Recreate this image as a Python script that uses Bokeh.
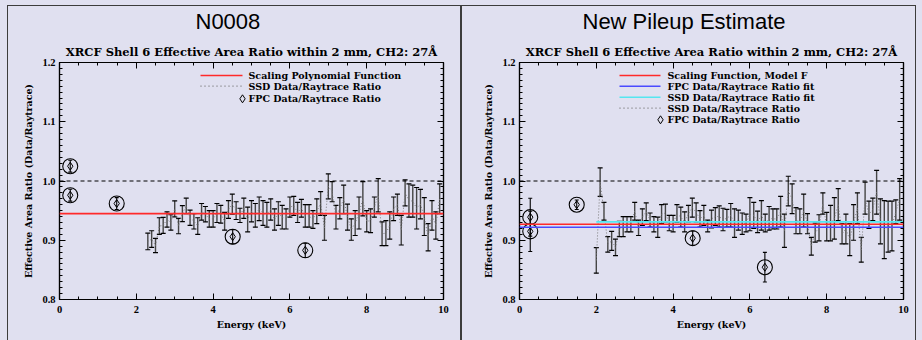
import numpy as np
from bokeh.plotting import figure
from bokeh.layouts import row
from bokeh.models import (ColumnDataSource, Whisker, TeeHead, Label, Span, FixedTicker,
                          LinearAxis, CustomJSTickFormatter, PrintfTickFormatter, Title)
from bokeh.embed import file_html
from bokeh.resources import INLINE

# ---------------- data ----------------
PANEL_TITLES = ["N0008", "New Pileup Estimate"]
SUBTITLE = "XRCF Shell 6 Effective Area Ratio within 2 mm, CH2: 27\u00c5"
X_LABEL = "Energy (keV)"
Y_LABEL = "Effective Area Ratio (Data/Raytrace)"
X_TICKS = [0, 2, 4, 6, 8, 10]
Y_TICKS = [0.8, 0.9, 1.0, 1.1, 1.2]
REF_LEVEL = 1.0

# left panel (N0008)
SSD_E_L = [2.3, 2.4, 2.5, 2.6, 2.7, 2.8, 2.9, 3.0, 3.1, 3.2,
           3.3, 3.4, 3.5, 3.6, 3.7, 3.8, 3.9, 4.0, 4.1, 4.2,
           4.3, 4.4, 4.5, 4.6, 4.7, 4.8, 4.9, 5.0, 5.1, 5.2,
           5.3, 5.4, 5.5, 5.6, 5.7, 5.8, 5.9, 6.0, 6.1, 6.2,
           6.3, 6.4, 6.5, 6.6, 6.7, 6.8, 6.9, 7.0, 7.1, 7.2,
           7.3, 7.4, 7.5, 7.6, 7.7, 7.8, 7.9, 8.0, 8.1, 8.2,
           8.3, 8.4, 8.5, 8.6, 8.7, 8.8, 8.9, 9.0, 9.1, 9.2,
           9.3, 9.4, 9.5, 9.6, 9.7, 9.8, 9.9]
SSD_R_L = [0.898, 0.902, 0.891, 0.924, 0.925, 0.935, 0.930, 0.953, 0.924, 0.945,
           0.958, 0.938, 0.932, 0.924, 0.948, 0.944, 0.936, 0.936, 0.946, 0.944,
           0.932, 0.952, 0.961, 0.950, 0.942, 0.954, 0.935, 0.949, 0.942, 0.953,
           0.946, 0.943, 0.952, 0.935, 0.945, 0.939, 0.936, 0.956, 0.958, 0.947,
           0.954, 0.941, 0.941, 0.935, 0.949, 0.962, 0.921, 0.991, 0.982, 0.939,
           0.954, 0.969, 0.939, 0.918, 0.929, 0.946, 0.970, 0.932, 0.933, 0.956,
           0.976, 0.911, 0.912, 0.925, 0.953, 0.960, 0.917, 0.980, 0.967, 0.966,
           0.954, 0.961, 0.940, 0.905, 0.942, 0.925, 0.970]
SSD_ERR_L = [0.014, 0.014, 0.012, 0.014, 0.0135, 0.013, 0.013, 0.0135, 0.013, 0.0135,
             0.013, 0.013, 0.013, 0.014, 0.014, 0.013, 0.014, 0.014, 0.016, 0.015,
             0.015, 0.015, 0.017, 0.015, 0.012, 0.017, 0.021, 0.018, 0.020, 0.020,
             0.021, 0.021, 0.018, 0.018, 0.020, 0.020, 0.017, 0.017, 0.016, 0.017,
             0.015, 0.019, 0.019, 0.015, 0.021, 0.020, 0.021, 0.021, 0.017, 0.020,
             0.018, 0.024, 0.022, 0.018, 0.021, 0.027, 0.029, 0.018, 0.020, 0.017,
             0.028, 0.020, 0.021, 0.023, 0.020, 0.018, 0.025, 0.022, 0.028, 0.027,
             0.035, 0.025, 0.032, 0.023, 0.025, 0.023, 0.025]
FPC_E_L = [0.28, 0.28, 1.49, 4.51, 6.40]
FPC_R_L = [1.025, 0.976, 0.962, 0.906, 0.883]
FPC_ERR_L = [0.010, 0.010, 0.010, 0.012, 0.012]
POLY_L = 0.945

# right panel (New Pileup Estimate)
SSD_E_R = [2.0, 2.1, 2.2, 2.3, 2.4, 2.5, 2.6, 2.7, 2.8, 2.9,
           3.0, 3.1, 3.2, 3.3, 3.4, 3.5, 3.6, 3.7, 3.8, 3.9,
           4.0, 4.1, 4.2, 4.3, 4.4, 4.5, 4.6, 4.7, 4.8, 4.9,
           5.0, 5.1, 5.2, 5.3, 5.4, 5.5, 5.6, 5.7, 5.8, 5.9,
           6.0, 6.1, 6.2, 6.3, 6.4, 6.5, 6.6, 6.7, 6.8, 6.9,
           7.0, 7.1, 7.2, 7.3, 7.4, 7.5, 7.6, 7.7, 7.8, 7.9,
           8.0, 8.1, 8.2, 8.3, 8.4, 8.5, 8.6, 8.7, 8.8, 8.9,
           9.0, 9.1, 9.2, 9.3, 9.4, 9.5, 9.6, 9.7, 9.8, 9.9]
SSD_R_R = [0.866, 0.998, 0.949, 0.893, 0.899, 0.888, 0.919, 0.923, 0.927, 0.927,
           0.949, 0.921, 0.939, 0.948, 0.934, 0.927, 0.922, 0.944, 0.946, 0.929,
           0.928, 0.945, 0.939, 0.931, 0.945, 0.955, 0.947, 0.936, 0.942, 0.924,
           0.936, 0.940, 0.940, 0.935, 0.937, 0.942, 0.929, 0.934, 0.928, 0.929,
           0.944, 0.942, 0.931, 0.942, 0.929, 0.937, 0.936, 0.936, 0.948, 0.916,
           0.983, 0.970, 0.933, 0.932, 0.950, 0.928, 0.890, 0.913, 0.921, 0.962,
           0.923, 0.929, 0.937, 0.960, 0.911, 0.919, 0.901, 0.930, 0.954, 0.884,
           0.971, 0.943, 0.952, 0.981, 0.932, 0.918, 0.923, 0.924, 0.948, 0.969]
SSD_ERR_R = [0.0215, 0.024, 0.015, 0.013, 0.016, 0.014, 0.013, 0.017, 0.013, 0.013,
             0.015, 0.013, 0.014, 0.015, 0.012, 0.013, 0.017, 0.016, 0.015, 0.013,
             0.014, 0.015, 0.017, 0.017, 0.014, 0.016, 0.016, 0.014, 0.017, 0.010,
             0.015, 0.015, 0.018, 0.019, 0.015, 0.020, 0.024, 0.017, 0.018, 0.015,
             0.028, 0.022, 0.018, 0.025, 0.015, 0.020, 0.017, 0.017, 0.026, 0.028,
             0.025, 0.025, 0.022, 0.021, 0.028, 0.017, 0.015, 0.016, 0.022, 0.018,
             0.024, 0.030, 0.035, 0.027, 0.017, 0.025, 0.027, 0.030, 0.026, 0.021,
             0.027, 0.023, 0.019, 0.037, 0.038, 0.049, 0.043, 0.042, 0.020, 0.035]
FPC_E_R = [0.28, 0.28, 1.49, 4.51, 6.39]
FPC_R_R = [0.939, 0.915, 0.960, 0.9035, 0.8545]
FPC_ERR_R = [0.032, 0.034, 0.008, 0.012, 0.025]
MODEL_F_R = 0.927
FPC_FIT_R = 0.922
SSD_FIT_R = 0.931
SSD_FIT_START = 2.0

LEGEND_L = [("line", "#ff2a2a", "Scaling Polynomial Function"),
            ("dot", "#707070", "SSD Data/Raytrace Ratio"),
            ("diamond", "black", "FPC Data/Raytrace Ratio")]
LEGEND_R = [("line", "#ff2a2a", "Scaling Function, Model F"),
            ("line", "#4a4aff", "FPC Data/Raytrace Ratio fit"),
            ("line", "#55e6f0", "SSD Data/Raytrace Ratio fit"),
            ("dot", "#707070", "SSD Data/Raytrace Ratio"),
            ("diamond", "black", "FPC Data/Raytrace Ratio")]

# ---------------- styling / layout ----------------
BG = "#e0e0f0"
FW, FH = 384, 237
X0, X1, Y0, Y1 = 0.0, 10.0, 0.8, 1.2
SERIF = "DejaVu Serif"
TICKFONT = "Liberation Serif"


def px2x(px):
    return X0 + px * (X1 - X0) / FW


def px2y(py):
    return Y1 - py * (Y1 - Y0) / FH


def make_panel(title, title_offset, border_left, border_right,
               ssd_e, ssd_r, ssd_err, fpc_e, fpc_r, fpc_err, legend, legend_geom):
    p = figure(width=461, height=340, x_range=(X0, X1), y_range=(Y0, Y1),
               output_backend="svg", toolbar_location=None, title=None,
               min_border_left=border_left, min_border_right=border_right,
               min_border_top=62, min_border_bottom=41,
               background_fill_color=BG, border_fill_color=BG,
               outline_line_color="black", outline_line_width=1.2)
    p.grid.visible = False

    xminor = list(np.round(np.arange(0, 10.001, 0.5), 2))
    yminor = list(np.round(np.arange(0.8, 1.2001, 0.01), 2))
    for ax in (p.xaxis[0], p.yaxis[0]):
        ax.major_tick_in = 6
        ax.major_tick_out = 0
        ax.minor_tick_in = 3
        ax.minor_tick_out = 0
        ax.axis_line_color = "black"
        ax.axis_line_width = 1.2
        ax.major_label_text_font = TICKFONT
        ax.major_label_text_font_style = "bold"
        ax.major_label_text_font_size = "10.5px"
        ax.major_label_text_color = "black"
        ax.axis_label_text_font = SERIF
        ax.axis_label_text_font_style = "bold"
        ax.axis_label_text_font_size = "9.5px"
        ax.axis_label_text_color = "black"
    p.xaxis[0].ticker = FixedTicker(ticks=X_TICKS, minor_ticks=xminor)
    p.yaxis[0].ticker = FixedTicker(ticks=Y_TICKS, minor_ticks=yminor)
    p.yaxis[0].formatter = PrintfTickFormatter(format="%.1f")
    p.xaxis[0].major_label_standoff = 6
    p.yaxis[0].major_label_standoff = 4
    p.xaxis[0].axis_label = X_LABEL
    p.xaxis[0].axis_label_standoff = 3
    p.yaxis[0].axis_label = Y_LABEL
    p.yaxis[0].axis_label_standoff = 5

    blank = CustomJSTickFormatter(code="return ''")
    top = LinearAxis(ticker=FixedTicker(ticks=X_TICKS, minor_ticks=xminor), formatter=blank,
                     major_tick_in=6, major_tick_out=0, minor_tick_in=3, minor_tick_out=0,
                     axis_line_color="black", axis_line_width=1.2, major_label_standoff=0,
                     major_label_text_font_size="0px")
    right = LinearAxis(ticker=FixedTicker(ticks=Y_TICKS, minor_ticks=yminor), formatter=blank,
                       major_tick_in=6, major_tick_out=0, minor_tick_in=3, minor_tick_out=0,
                       axis_line_color="black", axis_line_width=1.2, major_label_standoff=0,
                       major_label_text_font_size="0px")
    p.add_layout(top, "above")
    p.add_layout(right, "right")

    # titles (subtitle nearest the frame, panel title above it)
    p.add_layout(Title(text=SUBTITLE, align="center", text_font=SERIF,
                       text_font_style="bold", text_font_size="11.5px",
                       text_color="black", standoff=8), "above")
    p.add_layout(Title(text=title, align="left", offset=title_offset,
                       text_font="Liberation Sans", text_font_style="normal",
                       text_font_size="22px", text_color="black", standoff=10), "above")

    # reference line at 1.0
    p.add_layout(Span(location=REF_LEVEL, dimension="width", line_color="black",
                      line_dash="4 3", line_width=1))

    # SSD data
    ssd_e = np.array(ssd_e); ssd_r = np.array(ssd_r); ssd_err = np.array(ssd_err)
    src = ColumnDataSource(dict(x=ssd_e, y=ssd_r, lo=ssd_r - ssd_err, hi=ssd_r + ssd_err))
    p.line("x", "y", source=src, line_color="#7a7a7a", line_dash="1 2", line_width=1)
    p.add_layout(Whisker(base="x", lower="lo", upper="hi", source=src,
                         line_color="#454545", line_width=1.4,
                         upper_head=TeeHead(size=5, line_color="black", line_width=1.2),
                         lower_head=TeeHead(size=5, line_color="black", line_width=1.2)))

    # FPC data
    fpc_e = np.array(fpc_e); fpc_r = np.array(fpc_r); fpc_err = np.array(fpc_err)
    fsrc = ColumnDataSource(dict(x=fpc_e, y=fpc_r, lo=fpc_r - fpc_err, hi=fpc_r + fpc_err))
    p.add_layout(Whisker(base="x", lower="lo", upper="hi", source=fsrc,
                         line_color="black", line_width=1.1,
                         upper_head=TeeHead(size=4, line_color="black", line_width=1.1),
                         lower_head=TeeHead(size=4, line_color="black", line_width=1.1)))
    p.scatter("x", "y", source=fsrc, marker="diamond", size=8, fill_color=None,
              line_color="black", line_width=1)
    p.scatter("x", "y", source=fsrc, marker="circle", size=15, fill_color=None,
              line_color="black", line_width=1.1)

    # legend
    lx0, lx1, tx, rows = legend_geom
    for (kind, color, text), ry in zip(legend, rows):
        yy = px2y(ry)
        if kind == "line":
            p.line([px2x(lx0), px2x(lx1)], [yy, yy], line_color=color, line_width=1.6)
        elif kind == "dot":
            p.line([px2x(lx0), px2x(lx1)], [yy, yy], line_color=color, line_dash="1 3",
                   line_width=1.2)
        else:
            p.scatter([px2x(lx1)], [yy], marker="diamond", size=8, fill_color=None,
                      line_color=color, line_width=1)
        p.add_layout(Label(x=px2x(tx), y=yy, text=text, text_align="left",
                           text_baseline="middle", text_font=SERIF, text_font_style="bold",
                           text_font_size="9.5px", text_color="black"))
    return p


p1 = make_panel(PANEL_TITLES[0], 136, 59, 18,
                SSD_E_L, SSD_R_L, SSD_ERR_L, FPC_E_L, FPC_R_L, FPC_ERR_L,
                LEGEND_L, (141, 183, 189, [13, 23.7, 36.3]))
p1.add_layout(Span(location=POLY_L, dimension="width", line_color="#ff2a2a", line_width=1.6))

p2 = make_panel(PANEL_TITLES[1], 63, 58, 19,
                SSD_E_R, SSD_R_R, SSD_ERR_R, FPC_E_R, FPC_R_R, FPC_ERR_R,
                LEGEND_R, (100, 141, 148, [13, 23.7, 34.7, 45.7, 57.3]))
p2.add_layout(Span(location=MODEL_F_R, dimension="width", line_color="#ff2a2a", line_width=1.6))
p2.add_layout(Span(location=FPC_FIT_R, dimension="width", line_color="#4a4aff", line_width=1.6))
p2.line([SSD_FIT_START, X1], [SSD_FIT_R, SSD_FIT_R], line_color="#55e6f0", line_width=1.6)

layout = row(p1, p2)

TEMPLATE = """
{% block postamble %}
<style>
html, body { margin: 0; padding: 0; background: #e0e0f0; overflow: hidden; }
body::before { content: ""; position: fixed; left: 7px; top: 5px; width: 909px; height: 345px;
  border: 1.5px solid #3c3c3c; border-bottom: none; box-sizing: border-box;
  pointer-events: none; z-index: 10; }
body::after { content: ""; position: fixed; left: 460px; top: 5px; width: 1.5px; height: 345px;
  background: #3c3c3c; pointer-events: none; z-index: 10; }
</style>
{% endblock %}
"""

open("out.html", "w").write(file_html(layout, INLINE, template=TEMPLATE))
